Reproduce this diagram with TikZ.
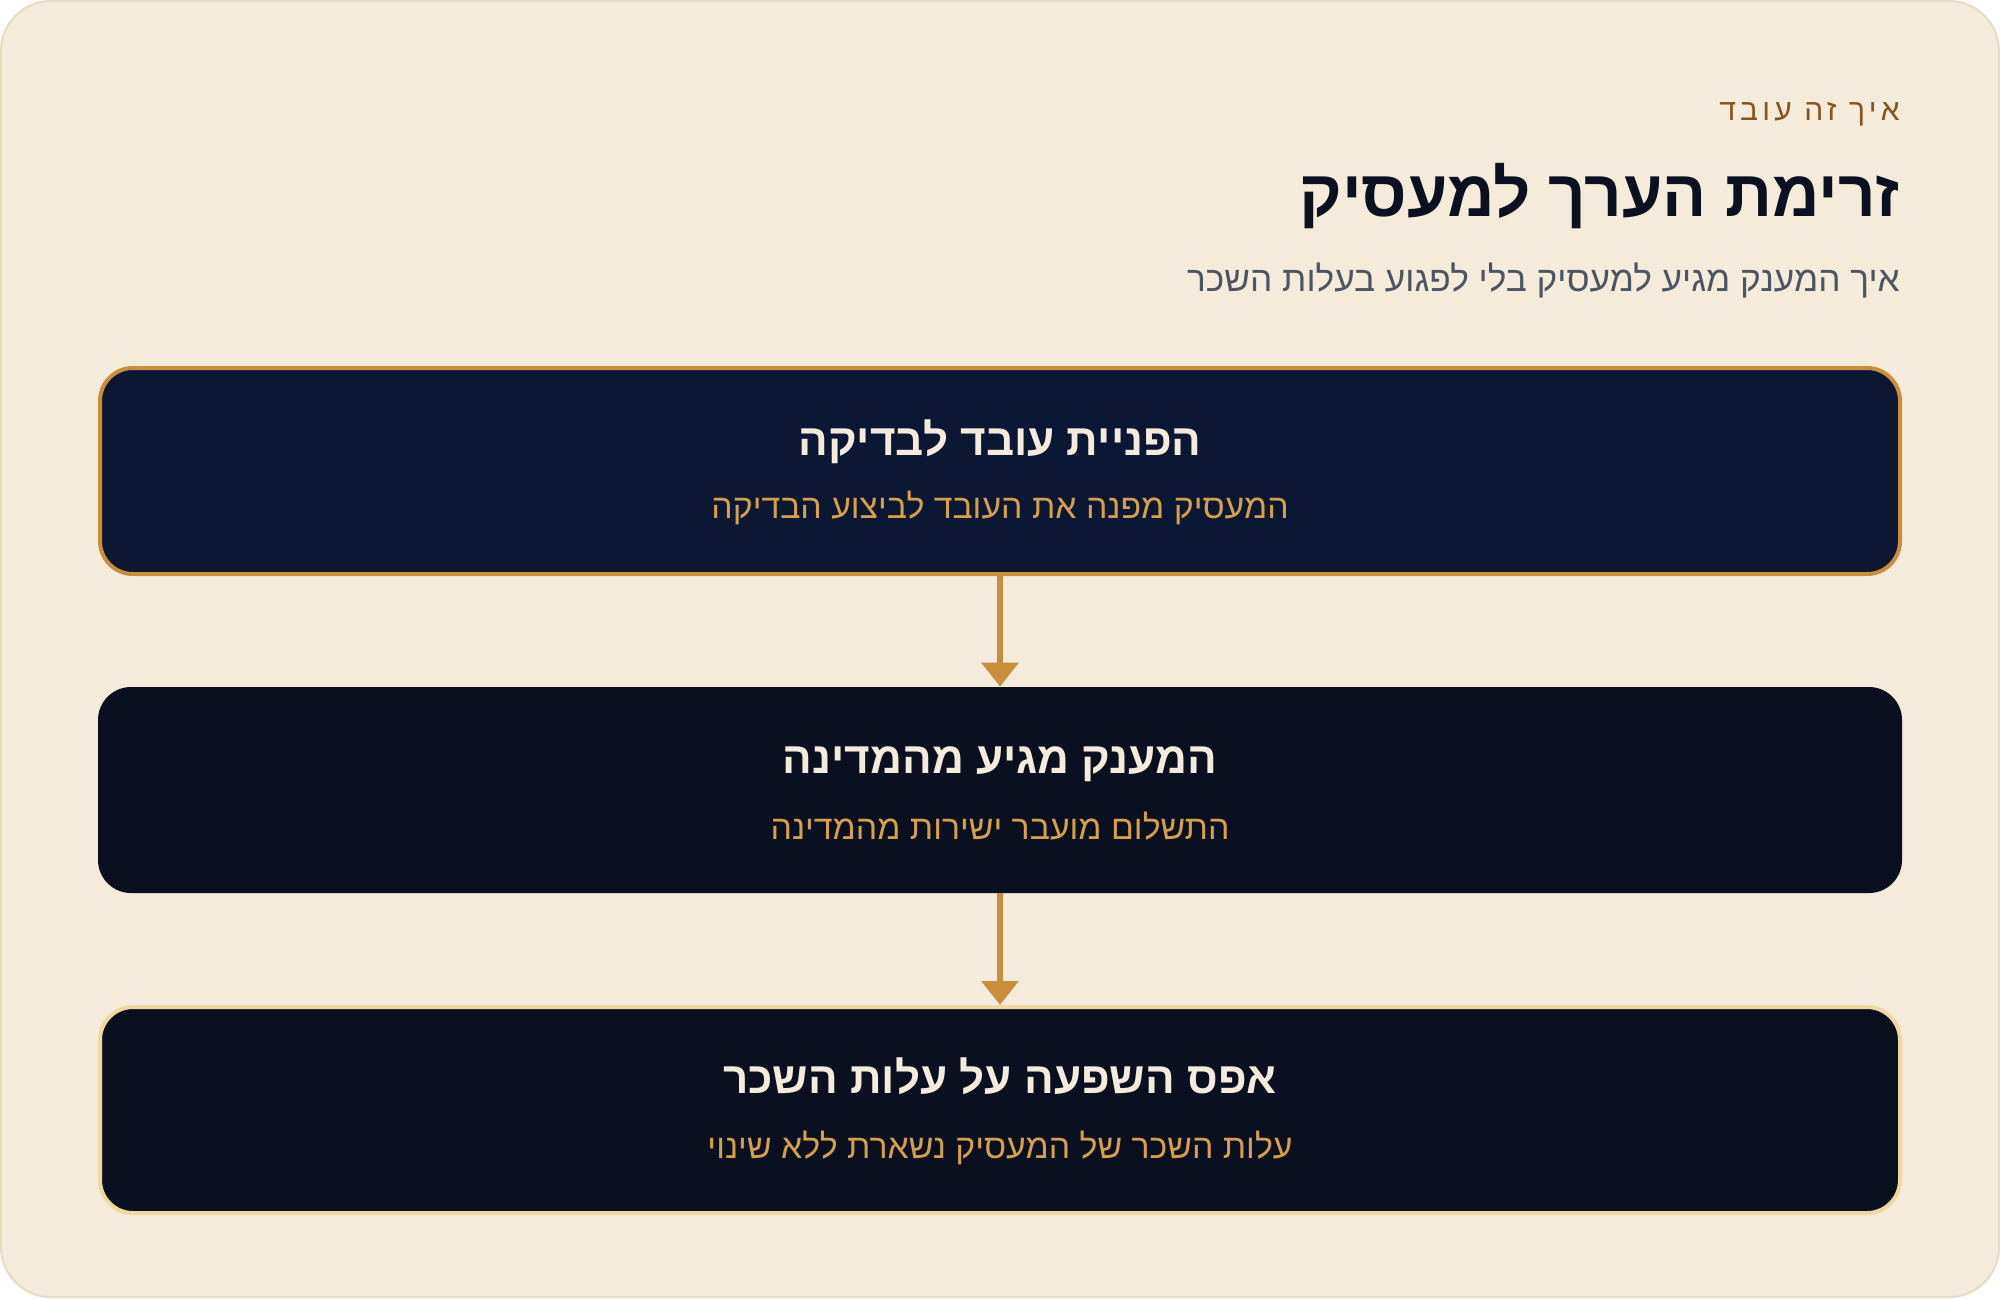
\documentclass[tikz,border=0pt]{standalone}
\usepackage{fontspec}
\setmainfont[Script=Hebrew]{Liberation Sans}
\newfontfamily\kickerfont[Script=Hebrew,LetterSpace=14]{Liberation Sans}
\TeXXeTstate=1
\usetikzlibrary{arrows.meta}
\definecolor{paper}{HTML}{F4EBDB}
\definecolor{paperline}{HTML}{E6DCC2}
\definecolor{rust}{HTML}{85561A}
\definecolor{ink}{HTML}{0B1120}
\definecolor{slate}{HTML}{4B5563}
\definecolor{navy}{HTML}{0C1733}
\definecolor{night}{HTML}{0A1020}
\definecolor{copper}{HTML}{C98E3A}
\definecolor{sand}{HTML}{F0D9A0}
\definecolor{cream}{HTML}{F5EBDC}
\definecolor{gold}{HTML}{D4A04A}
\newcommand{\rtl}[1]{\beginR #1\endR}
\begin{document}
\begin{tikzpicture}[x=0.5pt,y=-0.5pt,
    panel/.style={rounded corners=16.5pt, minimum width=900pt, minimum height=103pt, inner sep=0pt},
    head/.style={text=cream, font=\bfseries\fontsize{22}{26}\selectfont},
    note/.style={text=gold, font=\fontsize{16.9}{20}\selectfont},
    flow/.style={draw=copper, line width=3pt, -{Triangle[width=18pt,length=12pt]}}]
  \useasboundingbox (0,0) rectangle (2000,1298);
  \draw[fill=paper, draw=paperline, line width=1pt, rounded corners=25pt] (1,1) rectangle (1999,1297);
  % header
  \node[anchor=east, inner sep=0pt, text=rust, font=\fontsize{15}{18}\selectfont] (kicker) at (1900,114) {\kickerfont\rtl{איך זה עובד}};
  \node[anchor=east, inner sep=0pt, text=ink, font=\bfseries\fontsize{32.7}{38}\selectfont] (title) at (1900,196) {\rtl{זרימת הערך למעסיק}};
  \node[anchor=east, inner sep=0pt, text=slate, font=\fontsize{17.6}{21}\selectfont] (subtitle) at (1900,280) {\rtl{איך המענק מגיע למעסיק בלי לפגוע בעלות השכר}};
  % steps
  \node[panel, fill=navy, draw=copper, line width=2pt] (step1) at (1000,471) {};
  \node[head] (step1head) at (1000,442) {\rtl{הפניית עובד לבדיקה}};
  \node[note] (step1note) at (1000,508) {\rtl{המעסיק מפנה את העובד לביצוע הבדיקה}};
  \node[panel, fill=night, minimum width=902pt] (step2) at (1000,790) {};
  \node[head] (step2head) at (1000,764) {\rtl{המענק מגיע מהמדינה}};
  \node[note] (step2note) at (1000,826) {\rtl{התשלום מועבר ישירות מהמדינה}};
  \node[panel, fill=night, draw=sand, line width=2pt] (step3) at (1000,1110) {};
  \node[head] (step3head) at (1000,1076) {\rtl{אפס השפעה על עלות השכר}};
  \node[note] (step3note) at (1000,1148) {\rtl{עלות השכר של המעסיק נשארת ללא שינוי}};
  \begin{scope}[flow]
    \draw (step1) to (step2);
    \draw (step2) to (step3);
  \end{scope}
\end{tikzpicture}
\end{document}
